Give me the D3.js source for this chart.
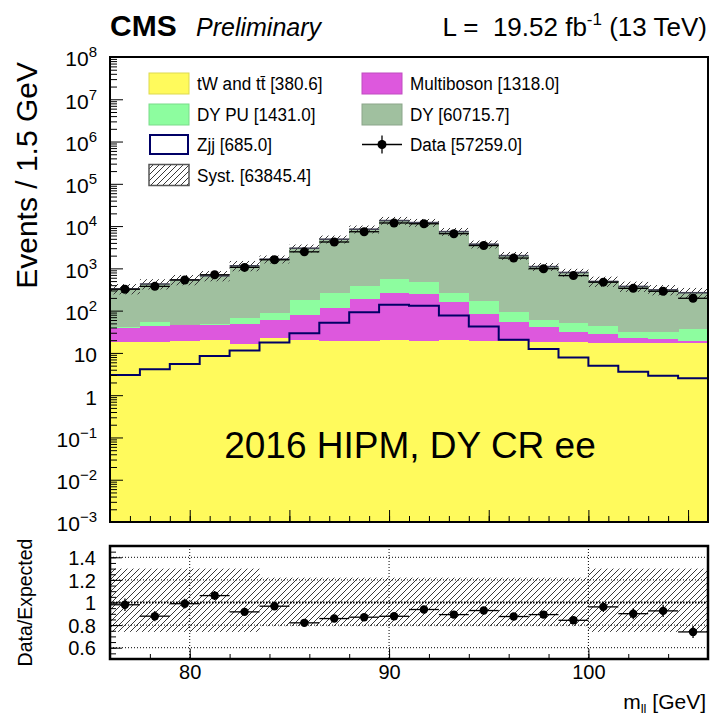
<!DOCTYPE html>
<html lang="en">
<head>
  <meta charset="utf-8">
  <title>DY CR ee</title>
  <script src="https://d3js.org/d3.v7.min.js"></script>
  <style>
    body { margin: 0; background: #fff; }
    text { font-family: "Liberation Sans", Arial, Helvetica, sans-serif; fill: #000; }
  </style>
</head>
<body>
<div id="chart"></div>
<script>
// lower edge of each 1.5 GeV bin (m_ll)
const binLow = [76, 77.5, 79, 80.5, 82, 83.5, 85, 86.5, 88, 89.5, 91, 92.5, 94, 95.5, 97, 98.5, 100, 101.5, 103, 104.5];
const binWidth = 1.5;

// stacked backgrounds, events per bin
const tWtt       = [18.6, 18.6, 19.2, 19.8, 16.4, 22.0, 19.8, 19.5, 19.5, 19.8, 19.5, 19.8, 19.5, 19.2, 18.6, 18.0, 17.5, 17.0, 17.0, 17.0];
const multiboson = [21, 25, 26, 26, 33, 38, 59, 96, 164, 240, 226, 136, 64, 36, 22, 13, 10.5, 6, 4.4, 2.6];
const dyPU       = [1, 11, 1.5, 1.5, 16, 27, 104, 145, 202, 295, 243, 112, 81, 40, 19, 21, 15, 9, 10.6, 16.4];
const dyMain     = [287, 372, 490, 618, 1085, 1563, 2817, 4640, 8065, 12945, 11612, 7132, 3566, 1905, 1040, 748, 447, 342, 278, 229];
// Zjj drawn as a line, not stacked
const zjj        = [3.0, 4.1, 5.5, 8.5, 11.4, 17.6, 29.3, 52, 92, 138, 130, 77, 42, 20.4, 12.3, 7.8, 5.0, 3.6, 2.9, 2.5];
const dataCounts = [321, 375, 531, 706, 1055, 1596, 2460, 4204, 7352, 11853, 11350, 6608, 3465, 1752, 982, 674, 471, 337, 287, 196];
// relative systematic uncertainty (up / down)
const systUp   = [0.30, 0.30, 0.30, 0.30, 0.30, 0.22, 0.22, 0.22, 0.22, 0.22, 0.22, 0.22, 0.22, 0.22, 0.22, 0.22, 0.30, 0.30, 0.30, 0.30];
const systDown = [0.26, 0.26, 0.26, 0.26, 0.26, 0.21, 0.21, 0.21, 0.21, 0.21, 0.21, 0.21, 0.21, 0.21, 0.21, 0.21, 0.26, 0.26, 0.26, 0.26];

// legend texts
const legendLabels = ["tW and tt\u0304 [380.6]", "Multiboson [1318.0]", "DY PU [1431.0]", "DY [60715.7]", "Zjj [685.0]", "Data [57259.0]", "Syst. [63845.4]"];

// axis ticks
const mainYTicks = [1e-3, 1e-2, 1e-1, 1, 10, 1e2, 1e3, 1e4, 1e5, 1e6, 1e7, 1e8];
const ratioYTicks = [0.6, 0.8, 1, 1.2, 1.4];
const ratioXTicks = [80, 90, 100];

const colors = { tw: "#fffa5c", mb: "#dd58dd", pu: "#8dfd9f", dy: "#a0c09f", zjj: "#000066" };

// layout
const width = 711, height = 718;
const left = 110, right = 708;
const mainTop = 57, mainBot = 522;
const ratTop = 546, ratBot = 659;

const svg = d3.select("#chart").append("svg")
    .attr("width", width)
    .attr("height", height);

const x = d3.scaleLinear().domain([76, 106]).range([left, right]);
const y = d3.scaleLog().domain([1e-3, 1e8]).range([mainBot, mainTop]);
const yr = d3.scaleLinear().domain([0.5, 1.5]).range([ratBot, ratTop]);

const defs = svg.append("defs");
defs.append("pattern")
    .attr("id", "hatch")
    .attr("patternUnits", "userSpaceOnUse")
    .attr("width", 6).attr("height", 6)
  .append("path")
    .attr("d", "M-1,1 l2,-2 M0,6 l6,-6 M5,7 l2,-2")
    .attr("stroke", "#3a3a3a")
    .attr("stroke-width", 1);
defs.append("clipPath").attr("id", "clipMain")
  .append("rect").attr("x", left).attr("y", mainTop).attr("width", right - left).attr("height", mainBot - mainTop);
defs.append("clipPath").attr("id", "clipRatio")
  .append("rect").attr("x", left).attr("y", ratTop).attr("width", right - left).attr("height", ratBot - ratTop);

// ---------- main panel ----------
const rows = binLow.map((b, i) => ({ lo: b, tw: tWtt[i], mb: multiboson[i], pu: dyPU[i], dy: dyMain[i] }));
const keys = ["tw", "mb", "pu", "dy"];
const stacked = d3.stack().keys(keys)(rows);
const totals = rows.map(r => r.tw + r.mb + r.pu + r.dy);

const main = svg.append("g").attr("clip-path", "url(#clipMain)");

stacked.forEach(layer => {
    main.append("g")
        .selectAll("rect")
        .data(layer)
        .join("rect")
            .attr("x", d => x(d.data.lo))
            .attr("width", d => x(d.data.lo + binWidth) - x(d.data.lo) + 0.5)
            .attr("y", d => y(d[1]))
            .attr("height", d => y(Math.max(d[0], 1e-3)) - y(d[1]))
            .attr("fill", colors[layer.key])
            .attr("shape-rendering", "crispEdges");
});

// Zjj step line
const zjjPts = binLow.map((b, i) => [b, zjj[i]]).concat([[106, zjj[zjj.length - 1]]]);
main.append("path")
    .datum(zjjPts)
    .attr("d", d3.line().x(d => x(d[0])).y(d => y(d[1])).curve(d3.curveStepAfter))
    .attr("fill", "none")
    .attr("stroke", colors.zjj)
    .attr("stroke-width", 2);

// syst band around total
main.append("g").selectAll("rect")
    .data(binLow)
    .join("rect")
        .attr("x", (b) => x(b))
        .attr("width", (b) => x(b + binWidth) - x(b))
        .attr("y", (b, i) => y(totals[i] * (1 + systUp[i])))
        .attr("height", (b, i) => y(totals[i] * (1 - systDown[i])) - y(totals[i] * (1 + systUp[i])))
        .attr("fill", "url(#hatch)");
main.append("g").selectAll("line")
    .data(binLow)
    .join("line")
        .attr("x1", b => x(b)).attr("x2", b => x(b + binWidth))
        .attr("y1", (b, i) => y(totals[i])).attr("y2", (b, i) => y(totals[i]))
        .attr("stroke", "#445")
        .attr("stroke-width", 1.6);

// data points
const dataG = main.append("g");
dataG.selectAll("line.h")
    .data(binLow)
    .join("line")
        .attr("class", "h")
        .attr("x1", b => x(b)).attr("x2", b => x(b + binWidth))
        .attr("y1", (b, i) => y(dataCounts[i])).attr("y2", (b, i) => y(dataCounts[i]))
        .attr("stroke", "#000").attr("stroke-width", 1.3);
dataG.selectAll("circle")
    .data(binLow)
    .join("circle")
        .attr("cx", b => x(b + binWidth / 2))
        .attr("cy", (b, i) => y(dataCounts[i]))
        .attr("r", 4.5)
        .attr("fill", "#000");

// main axes (ticks inside, ROOT style)
const yMinor = [];
for (let e = -3; e < 8; e++) for (let k = 2; k <= 9; k++) yMinor.push(k * Math.pow(10, e));

svg.append("g")
    .attr("transform", `translate(${left},0)`)
    .call(d3.axisLeft(y).tickValues(yMinor).tickSize(-7).tickFormat(""))
    .call(g => g.select(".domain").remove());

const yAxisG = svg.append("g")
    .attr("transform", `translate(${left},0)`)
    .call(d3.axisLeft(y).tickValues(mainYTicks).tickSizeInner(-13).tickSizeOuter(0).tickPadding(13))
    .call(g => g.select(".domain").remove())
    .attr("font-family", null).attr("font-size", null);

yAxisG.selectAll(".tick text").each(function(d) {
    const t = d3.select(this).text("").style("font-size", "21px").attr("dy", "0.42em");
    const e = Math.round(Math.log10(d));
    if (e === 0) t.text("1");
    else if (e === 1) t.text("10");
    else {
        t.append("tspan").text("10");
        t.append("tspan").attr("dy", -9).style("font-size", "15px").text(e < 0 ? "\u2212" + (-e) : e);
    }
});

const xMinor = d3.range(77, 106, 1);
svg.append("g")
    .attr("transform", `translate(0,${mainBot})`)
    .call(d3.axisBottom(x).tickValues(xMinor).tickSize(-6).tickFormat(""))
    .call(g => g.select(".domain").remove());
svg.append("g")
    .attr("transform", `translate(0,${mainBot})`)
    .call(d3.axisBottom(x).tickValues([80, 85, 90, 95, 100, 105]).tickSize(-12).tickFormat(""))
    .call(g => g.select(".domain").remove());

svg.append("rect")
    .attr("x", left).attr("y", mainTop)
    .attr("width", right - left).attr("height", mainBot - mainTop)
    .attr("fill", "none").attr("stroke", "#000").attr("stroke-width", 2);

// ---------- ratio panel ----------
const ratio = svg.append("g").attr("clip-path", "url(#clipRatio)");

ratio.append("g").selectAll("rect")
    .data(binLow)
    .join("rect")
        .attr("x", b => x(b))
        .attr("width", b => x(b + binWidth) - x(b) + 0.3)
        .attr("y", (b, i) => yr(1 + systUp[i]))
        .attr("height", (b, i) => yr(1 - systDown[i]) - yr(1 + systUp[i]))
        .attr("fill", "url(#hatch)");

// dotted grid
ratio.append("g").selectAll("line")
    .data(ratioYTicks)
    .join("line")
        .attr("x1", left).attr("x2", right)
        .attr("y1", d => yr(d)).attr("y2", d => yr(d))
        .attr("stroke", "#000")
        .attr("stroke-width", d => d === 1 ? 2 : 1)
        .attr("stroke-dasharray", d => d === 1 ? "1.5,1.5" : "1,2");
ratio.append("g").selectAll("line")
    .data(ratioXTicks)
    .join("line")
        .attr("x1", d => x(d)).attr("x2", d => x(d))
        .attr("y1", ratTop).attr("y2", ratBot)
        .attr("stroke", "#000").attr("stroke-width", 1)
        .attr("stroke-dasharray", "1,2");

const ratios = dataCounts.map((v, i) => v / totals[i]);
const ratioErr = dataCounts.map((v, i) => Math.sqrt(v) / totals[i]);

ratio.append("g").selectAll("line")
    .data(binLow)
    .join("line")
        .attr("x1", b => x(b)).attr("x2", b => x(b + binWidth))
        .attr("y1", (b, i) => yr(ratios[i])).attr("y2", (b, i) => yr(ratios[i]))
        .attr("stroke", "#000").attr("stroke-width", 1.3);
ratio.append("g").selectAll("line")
    .data(binLow)
    .join("line")
        .attr("x1", b => x(b + binWidth / 2)).attr("x2", b => x(b + binWidth / 2))
        .attr("y1", (b, i) => yr(ratios[i] + ratioErr[i])).attr("y2", (b, i) => yr(ratios[i] - ratioErr[i]))
        .attr("stroke", "#000").attr("stroke-width", 1.3);
ratio.append("g").selectAll("circle")
    .data(binLow)
    .join("circle")
        .attr("cx", b => x(b + binWidth / 2))
        .attr("cy", (b, i) => yr(ratios[i]))
        .attr("r", 4.2)
        .attr("fill", "#000");

// ratio axes
svg.append("g")
    .attr("transform", `translate(${left},0)`)
    .call(d3.axisLeft(yr).tickValues(d3.range(0.5, 1.501, 0.05)).tickSize(-6).tickFormat(""))
    .call(g => g.select(".domain").remove());
svg.append("g")
    .attr("transform", `translate(${left},0)`)
    .call(d3.axisLeft(yr).tickValues(ratioYTicks).tickSizeInner(-12).tickSizeOuter(0).tickPadding(14).tickFormat(d3.format("~g")))
    .call(g => g.select(".domain").remove())
    .attr("font-family", null).attr("font-size", null)
    .selectAll("text").style("font-size", "20px").attr("dy", "0.36em");

svg.append("g")
    .attr("transform", `translate(0,${ratBot})`)
    .call(d3.axisBottom(x).tickValues(d3.range(78, 106.1, 2)).tickSize(-5).tickFormat(""))
    .call(g => g.select(".domain").remove());
svg.append("g")
    .attr("transform", `translate(0,${ratBot})`)
    .call(d3.axisBottom(x).tickValues(ratioXTicks).tickSizeInner(-10).tickSizeOuter(0).tickPadding(5))
    .call(g => g.select(".domain").remove())
    .attr("font-family", null).attr("font-size", null)
    .selectAll("text").style("font-size", "20px").attr("y", 20).attr("dy", 0);

svg.append("rect")
    .attr("x", left).attr("y", ratTop)
    .attr("width", right - left).attr("height", ratBot - ratTop)
    .attr("fill", "none").attr("stroke", "#000").attr("stroke-width", 2.5);

// ---------- legend ----------
const legend = svg.append("g");
const legendItems = [
    { col: 0, row: 0, type: "box", fill: colors.tw },
    { col: 1, row: 0, type: "box", fill: colors.mb },
    { col: 0, row: 1, type: "box", fill: colors.pu },
    { col: 1, row: 1, type: "box", fill: colors.dy },
    { col: 0, row: 2, type: "line" },
    { col: 1, row: 2, type: "data" },
    { col: 0, row: 3, type: "syst" }
];
const colX = [149, 362], rowY = [83.5, 114.5, 144.5, 175], boxW = 40, boxH = 21;
legendItems.forEach((it, i) => {
    const bx = colX[it.col], cy = rowY[it.row];
    if (it.type === "box") {
        legend.append("rect").attr("x", bx).attr("y", cy - boxH / 2).attr("width", boxW).attr("height", boxH)
            .attr("fill", it.fill).attr("stroke", d3.color(it.fill).darker(0.4)).attr("stroke-width", 1);
    } else if (it.type === "line") {
        legend.append("rect").attr("x", bx + 1).attr("y", cy - boxH / 2 + 1).attr("width", boxW - 2).attr("height", boxH - 2)
            .attr("fill", "#fff").attr("stroke", colors.zjj).attr("stroke-width", 2);
    } else if (it.type === "syst") {
        legend.append("rect").attr("x", bx).attr("y", cy - boxH / 2).attr("width", boxW).attr("height", boxH)
            .attr("fill", "url(#hatch)").attr("stroke", "#555").attr("stroke-width", 1.5);
    } else {
        legend.append("line").attr("x1", bx).attr("x2", bx + boxW).attr("y1", cy).attr("y2", cy)
            .attr("stroke", "#000").attr("stroke-width", 1.3);
        legend.append("line").attr("x1", bx + boxW / 2).attr("x2", bx + boxW / 2).attr("y1", cy - 9).attr("y2", cy + 9)
            .attr("stroke", "#000").attr("stroke-width", 1.3);
        legend.append("circle").attr("cx", bx + boxW / 2).attr("cy", cy).attr("r", 4.5).attr("fill", "#000");
    }
    legend.append("text")
        .attr("transform", `translate(${bx + boxW + 8},${cy + 6.5}) scale(0.9,1)`)
        .style("font-size", "19px")
        .text(legendLabels[i]);
});

// ---------- texts ----------
svg.append("text")
    .attr("x", left).attr("y", 36)
    .style("font-size", "30px").style("font-weight", "bold")
    .text("CMS");
svg.append("text")
    .attr("x", 196).attr("y", 36)
    .style("font-size", "25px").style("font-style", "italic")
    .text("Preliminary");

const lumi = svg.append("text")
    .attr("x", 707).attr("y", 36)
    .attr("text-anchor", "end")
    .style("font-size", "26px");
lumi.append("tspan").text("L =\u00a0\u00a019.52 fb");
lumi.append("tspan").attr("dy", -11).style("font-size", "17px").text("-1");
lumi.append("tspan").attr("dy", 11).text(" (13 TeV)");

svg.append("text")
    .attr("transform", "translate(37,62) rotate(-90)")
    .attr("text-anchor", "end")
    .style("font-size", "30px")
    .text("Events / 1.5 GeV");

svg.append("text")
    .attr("transform", `translate(32,${(ratTop + ratBot) / 2}) rotate(-90)`)
    .attr("text-anchor", "middle")
    .style("font-size", "19.5px")
    .text("Data/Expected");

const xTitle = svg.append("text")
    .attr("x", 706).attr("y", 709)
    .attr("text-anchor", "end")
    .style("font-size", "21px");
xTitle.append("tspan").text("m");
xTitle.append("tspan").attr("dy", 4).style("font-size", "13px").text("ll");
xTitle.append("tspan").attr("dy", -4).text(" [GeV]");

svg.append("text")
    .attr("x", 410).attr("y", 458)
    .attr("text-anchor", "middle")
    .style("font-size", "37px")
    .text("2016 HIPM, DY CR ee");
</script>
</body>
</html>
